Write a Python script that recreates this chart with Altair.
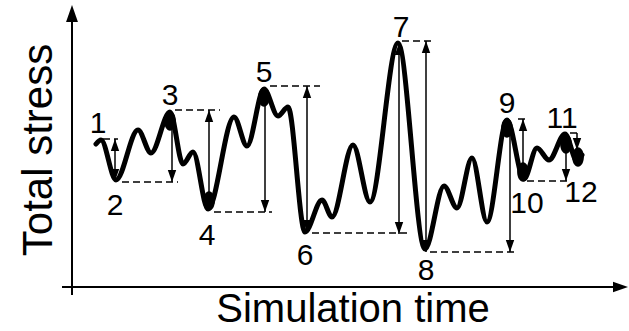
import altair as alt
import pandas as pd

# ---- stress history (time, stress) ----
curve_t = [24, 29, 44, 66, 79, 98, 111, 121, 136, 162, 175, 192, 206, 216, 233, 250, 260,
           281, 298, 326, 353, 372, 385, 400, 415, 435, 452, 465, 477, 493, 505, 510]
curve_s = [143, 147, 107, 157, 134, 175, 123, 135, 78, 170, 141, 198, 171, 180, 55, 87, 70,
           142, 85, 244, 38, 101, 79, 129, 65, 167, 108, 139, 127, 153, 126, 132]

# thickened turning points
blob_t = [98, 137, 192, 435, 494, 506, 451]
blob_s = [166, 86, 190, 159, 143, 130, 115]

# numbered extremes
label_text = ["1", "2", "3", "4", "5", "6", "7", "8", "9", "10", "11", "12"]
label_t = [26, 43, 98, 135, 192, 233, 329, 354, 435, 455, 490, 509]
label_s = [154, 72, 182, 42, 205, 22, 250, 7, 174, 74, 159, 85]

# dashed reference levels (level, from, to)
level_s = [105, 177, 75, 201, 54, 35, 106, 148, 246, 168, 154]
level_t1 = [50, 103, 142, 198, 240, 358, 455, 31, 330, 446, 498]
level_t2 = [106, 148, 200, 248, 335, 443, 496, 46, 363, 456, 508]

# range arrows (time, top, bottom, heads)
arrow_t = [43, 100, 137, 193, 235, 327, 354, 438, 451, 494, 505]
arrow_top = [148, 165, 177, 187, 201, 244, 246, 159, 168, 147, 154]
arrow_bot = [106, 105, 77, 75, 55, 53, 35, 35, 109, 106, 137]
arrow_heads = ["both", "down", "up", "down", "both", "both", "both", "down", "up", "down", "down"]

x_title = "Simulation time"
y_title = "Total stress"

FONT = "Liberation Sans"
XS = alt.Scale(domain=[-72, 557], nice=False, zero=False)
YS = alt.Scale(domain=[-44, 287], nice=False, zero=False)


def X(f):
    return alt.X(f, type="quantitative", scale=XS, axis=None)


def Y(f):
    return alt.Y(f, type="quantitative", scale=YS, axis=None)


curve_df = pd.DataFrame({"t": curve_t, "s": curve_s})
blob_df = pd.DataFrame({"t": blob_t, "s": blob_s})
label_df = pd.DataFrame({"t": label_t, "s": label_s, "txt": label_text})
level_df = pd.DataFrame({"s": level_s, "t1": level_t1, "t2": level_t2})
arrow_df = pd.DataFrame({"t": arrow_t, "top": arrow_top, "bot": arrow_bot, "h": arrow_heads})
up_df = arrow_df[arrow_df.h.isin(["both", "up"])]
down_df = arrow_df[arrow_df.h.isin(["both", "down"])]

curve = alt.Chart(curve_df).mark_line(
    interpolate="monotone", color="black", strokeWidth=5, strokeCap="round", strokeJoin="round"
).encode(x=X("t"), y=Y("s"), order="t:Q")

ELLIPSE = "M-0.6,0A0.6,1 0 1,0 0.6,0A0.6,1 0 1,0 -0.6,0Z"
blobs = alt.Chart(blob_df).mark_point(
    shape=ELLIPSE, filled=True, color="black", opacity=1, size=380, strokeWidth=0
).encode(x=X("t"), y=Y("s"))

levels = alt.Chart(level_df).mark_rule(
    color="black", strokeWidth=1.5, strokeDash=[7, 4]
).encode(x=X("t1"), x2="t2:Q", y=Y("s"))

shafts = alt.Chart(arrow_df).mark_rule(color="black", strokeWidth=1.5).encode(
    x=X("t"), y=Y("top"), y2="bot:Q"
)

UP = "M0,0L0.7,2L-0.7,2Z"
DOWN = "M0,0L0.7,-2L-0.7,-2Z"
heads_up = alt.Chart(up_df).mark_point(
    shape=UP, filled=True, color="black", opacity=1, size=144, strokeWidth=0
).encode(x=X("t"), y=Y("top"))
heads_down = alt.Chart(down_df).mark_point(
    shape=DOWN, filled=True, color="black", opacity=1, size=144, strokeWidth=0
).encode(x=X("t"), y=Y("bot"))

# axes drawn as arrows
axis_line_df = pd.DataFrame({"t": [0, -10], "t2": [0, 543], "s": [-8, 0], "s2": [265, 0]})
axis_lines = alt.Chart(axis_line_df).mark_rule(color="black", strokeWidth=2).encode(
    x=X("t"), x2="t2:Q", y=Y("s"), y2="s2:Q"
)
ax_up = alt.Chart(pd.DataFrame({"t": [0], "s": [282]})).mark_point(
    shape="M0,0L0.7,2L-0.7,2Z", filled=True, color="black", opacity=1, size=289, strokeWidth=0
).encode(x=X("t"), y=Y("s"))
ax_right = alt.Chart(pd.DataFrame({"t": [556], "s": [0]})).mark_point(
    shape="M0,0L-2,-0.7L-2,0.7Z", filled=True, color="black", opacity=1, size=225, strokeWidth=0
).encode(x=X("t"), y=Y("s"))

labels = alt.Chart(label_df).mark_text(
    font=FONT, fontSize=30, color="black", align="center", baseline="alphabetic"
).encode(x=X("t"), y=Y("s"), text="txt:N")

xt = alt.Chart(pd.DataFrame({"t": [281], "s": [-35], "txt": [x_title]})).mark_text(
    font=FONT, fontSize=40, color="black", align="center", baseline="alphabetic"
).encode(x=X("t"), y=Y("s"), text="txt:N")
yt = alt.Chart(pd.DataFrame({"t": [-20], "s": [137], "txt": [y_title]})).mark_text(
    font=FONT, fontSize=42, color="black", align="center", baseline="alphabetic", angle=270
).encode(x=X("t"), y=Y("s"), text="txt:N")

chart = alt.layer(
    levels, shafts, heads_up, heads_down, curve, blobs, axis_lines, ax_up, ax_right, labels, xt, yt
).properties(width=629, height=331, padding=0, autosize="none", background="white").configure_view(stroke=None)

chart.save("out.html", embed_options={"renderer": "svg", "actions": False})
